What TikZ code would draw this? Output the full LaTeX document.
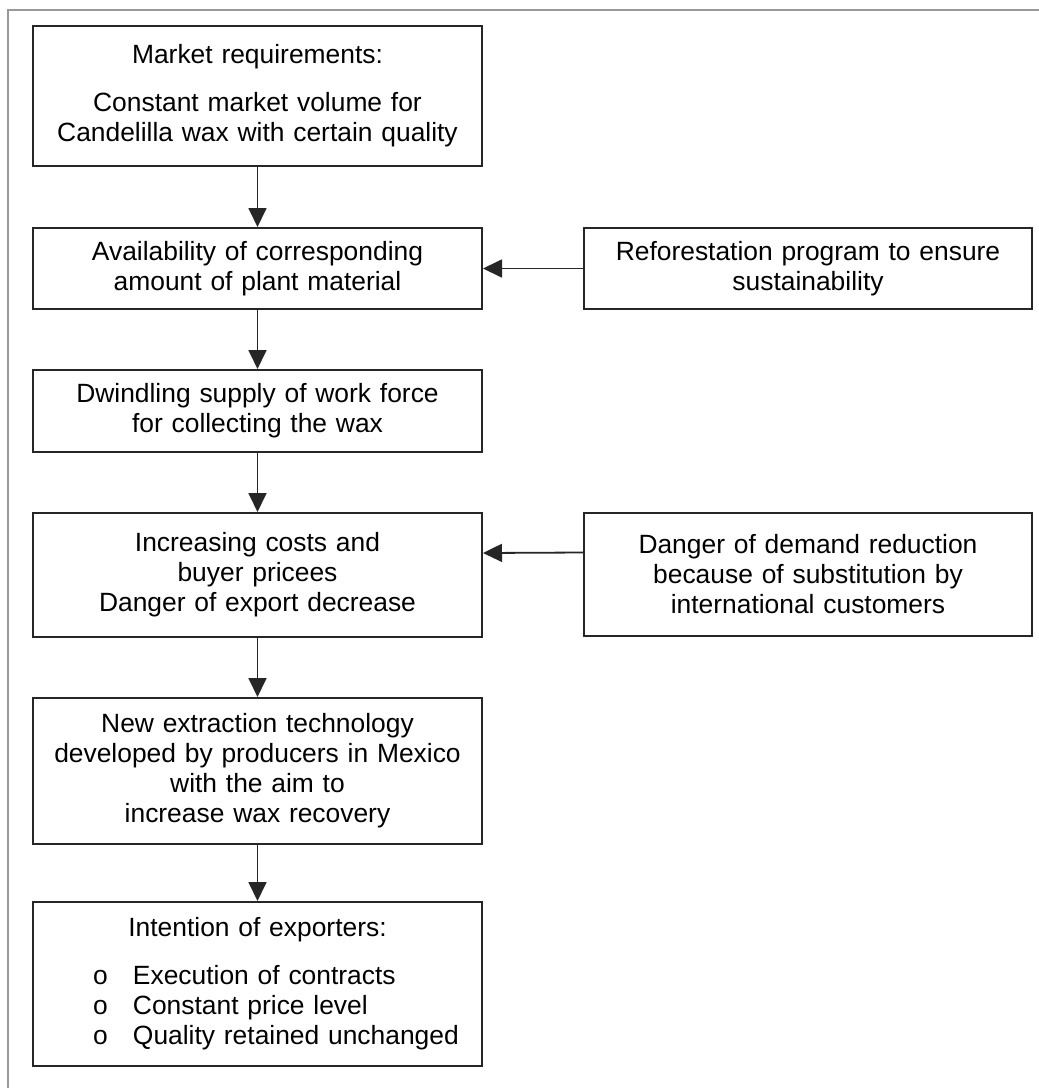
\documentclass[tikz,border=0pt]{standalone}
\usepackage{fontspec}
\setmainfont{Liberation Sans}
\usetikzlibrary{arrows.meta}
\begin{document}
\begin{tikzpicture}[
    x=0.5pt, y=-0.5pt,
    box/.style={draw=black!85, line width=1pt, inner sep=0pt, text width=224.5pt, align=center, font=\fontsize{13.2}{15}\selectfont},
    arr/.style={-{Triangle[length=9.5pt,width=9pt]}, line width=0.9pt, black!85}
]
    \useasboundingbox (0,0) rectangle (1039,1088);
    \draw[black!40, line width=1.3pt] (8,1088) -- (8,10) -- (1039,10);
    % main column
    \node[box, minimum height=70pt] (market) at (257.5,96) {Market requirements:\\[9pt] Constant market volume for\\ Candelilla wax with certain quality};
    \node[box, minimum height=40.5pt] (avail) at (257.5,268.5) {Availability of corresponding\\ amount of plant material};
    \node[box, minimum height=41pt] (dwindle) at (257.5,411) {Dwindling supply of work force\\ for collecting the wax};
    \node[box, minimum height=62pt] (incr) at (257.5,575) {Increasing costs and\\ buyer pricees\\ Danger of export decrease};
    \node[box, minimum height=73pt] (newtech) at (257.5,771) {New extraction technology\\ developed by producers in Mexico\\ with the aim to\\ increase wax recovery};
    \node[box, minimum height=82pt, align=left] (intent) at (257.5,984) {\makebox[\linewidth]{Intention of exporters:}\\[9pt]
        \hspace*{30pt}\makebox[20pt][l]{o}Execution of contracts\\
        \hspace*{30pt}\makebox[20pt][l]{o}Constant price level\\
        \hspace*{30pt}\makebox[20pt][l]{o}Quality retained unchanged};
    % side boxes
    \node[box, text width=224pt, minimum height=40.5pt] (reforest) at (808,268.5) {Reforestation program to ensure\\ sustainability};
    \node[box, text width=224pt, minimum height=61.5pt] (danger) at (808,574.5) {Danger of demand reduction\\ because of substitution by\\ international customers};
    \draw[arr] (market) -- (avail);
    \draw[arr] (avail) -- (dwindle);
    \draw[arr] (dwindle) -- (incr);
    \draw[arr] (incr) -- (newtech);
    \draw[arr] (newtech) -- (intent);
    \draw[arr] (reforest) -- (avail);
    \draw[arr] ([yshift=11pt]danger.west) -- ([yshift=11pt]incr.east);
\end{tikzpicture}
\end{document}
